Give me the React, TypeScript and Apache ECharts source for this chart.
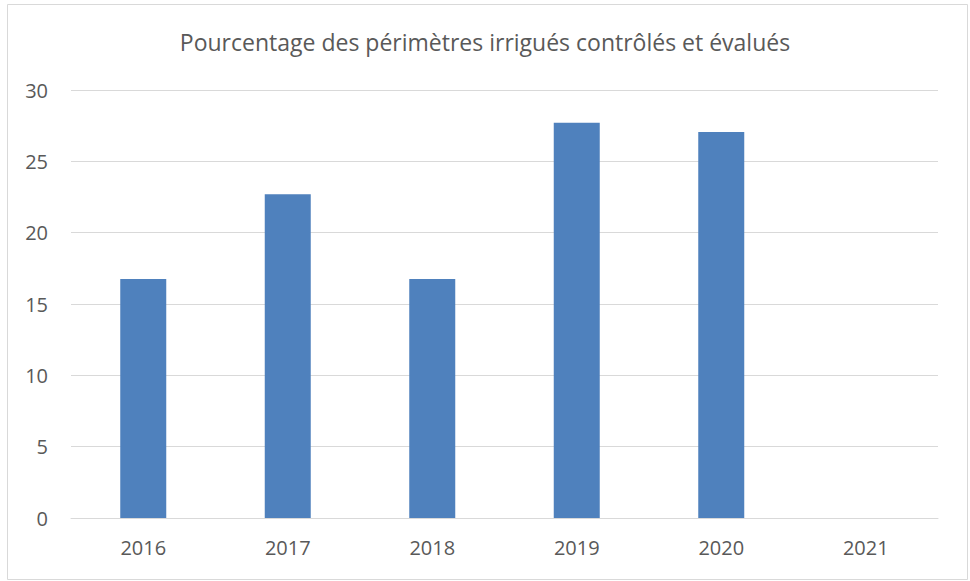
import React, { useEffect, useRef } from "react";
import * as echarts from "echarts";

const categories = ["2016", "2017", "2018", "2019", "2020", "2021"];
const values = [16.75, 22.7, 16.75, 27.7, 27.05, 0];
const titleText = "Pourcentage des périmètres irrigués contrôlés et évalués";

export default function App() {
  const ref = useRef<HTMLDivElement>(null);
  useEffect(() => {
    if (!ref.current) return;
    const chart = echarts.init(ref.current, null, { renderer: "svg" });
    const font = "Open Sans, Noto Sans, sans-serif";
    chart.setOption({
      animation: false,
      backgroundColor: "#ffffff",
      title: {
        text: titleText,
        left: "center",
        top: 25,
        textStyle: { fontFamily: font, fontSize: 23, fontWeight: "normal", color: "#595959" },
      },
      graphic: [
        {
          type: "rect",
          shape: { x: 7.5, y: 4.5, width: 960, height: 575 },
          style: { fill: "none", stroke: "#d9d9d9", lineWidth: 1 },
          silent: true,
        },
      ],
      grid: { left: 71, right: 32, top: 90, bottom: 63 },
      xAxis: {
        type: "category",
        data: categories,
        axisLine: { show: true, lineStyle: { color: "#d9d9d9", width: 1 } },
        axisTick: { show: false },
        axisLabel: { fontFamily: font, fontSize: 20, color: "#595959", margin: 19 },
      },
      yAxis: {
        type: "value",
        min: 0,
        max: 30,
        interval: 5,
        axisLine: { show: false },
        axisTick: { show: false },
        splitLine: { lineStyle: { color: "#d9d9d9", width: 1 } },
        axisLabel: { fontFamily: font, fontSize: 20, color: "#595959", margin: 23 },
      },
      series: [
        {
          type: "bar",
          data: values,
          barWidth: 46,
          itemStyle: { color: "#4F81BD" },
        },
      ],
    });
    return () => chart.dispose();
  }, []);
  return (
    <div
      ref={ref}
      style={{ position: "fixed", left: 0, top: 0, width: 970, height: 581 }}
    />
  );
}
